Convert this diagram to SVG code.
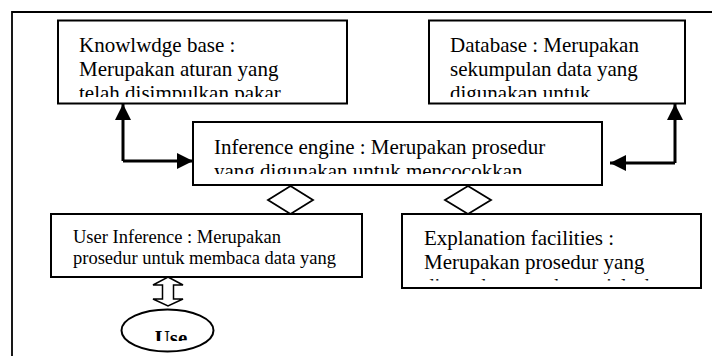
<svg xmlns="http://www.w3.org/2000/svg" width="712" height="356" viewBox="0 0 712 356">
<style>
.box{fill:#fff;stroke:#000;stroke-width:2}
.t{font-family:"Liberation Serif","Times New Roman",serif;font-size:21px;fill:#000}
.ts{font-family:"Liberation Serif","Times New Roman",serif;font-size:18.5px;fill:#000}
.conn{fill:none;stroke:#000;stroke-width:3}
.dia{fill:#fff;stroke:#000;stroke-width:1.8}
.frame{fill:none;stroke:#000;stroke-width:1.8}
</style>
<defs>
<marker id="ah" markerUnits="userSpaceOnUse" markerWidth="16" markerHeight="16" refX="16" refY="8" orient="auto" viewBox="0 0 16 16">
<path d="M0,0 L16,8 L0,16 Z" fill="#000"/>
</marker>
<clipPath id="cKb"><rect x="59" y="21" width="287" height="76"/></clipPath>
<clipPath id="cDb"><rect x="430" y="21" width="254" height="76"/></clipPath>
<clipPath id="cIe"><rect x="194" y="123" width="407" height="51"/></clipPath>
<clipPath id="cUi"><rect x="52" y="215" width="309" height="61"/></clipPath>
<clipPath id="cEx"><rect x="403" y="215" width="297" height="65.5"/></clipPath>
<clipPath id="cUs"><rect x="120" y="300" width="100" height="41"/></clipPath>
</defs>
<rect width="712" height="356" fill="#fff"/>
<path class="frame" d="M12,356 V12 H712"/>
<g id="connectors">
<path class="conn" d="M123,161 V104" marker-end="url(#ah)"/>
<path class="conn" d="M123,161 H193" marker-end="url(#ah)"/>
<path class="conn" d="M675,163 V104" marker-end="url(#ah)"/>
<path class="conn" d="M675,163 H610" marker-end="url(#ah)"/>
<polygon class="dia" points="290.5,186 313,200 290.5,214 268,200"/>
<polygon class="dia" points="468,186 491,200 468,214 445,200"/>
<polygon fill="#fff" stroke="#000" stroke-width="1.5" points="168,277 183,285 173.5,285 173.5,299 183,299 168,306 153,299 162.5,299 162.5,285 153,285"/>
</g>
<g id="knowledge-base">
<rect class="box" x="58" y="20.5" width="289" height="83"/>
<g clip-path="url(#cKb)" class="t">
<text x="79" y="52">Knowlwdge base :</text>
<text x="79" y="76">Merupakan aturan yang</text>
<text x="79" y="100">telah disimpulkan pakar</text>
</g>
</g>
<g id="database">
<rect class="box" x="429" y="20.5" width="256" height="83"/>
<g clip-path="url(#cDb)" class="t">
<text x="450" y="52">Database : Merupakan</text>
<text x="450" y="76">sekumpulan data yang</text>
<text x="450" y="100">digunakan untuk</text>
</g>
</g>
<g id="inference-engine">
<rect class="box" x="193" y="122" width="409" height="63"/>
<g clip-path="url(#cIe)" class="t">
<text x="214" y="154">Inference engine : Merupakan prosedur</text>
<text x="214" y="178">yang digunakan untuk mencocokkan</text>
</g>
</g>
<g id="user-inference">
<rect class="box" x="51" y="214" width="311" height="63"/>
<g clip-path="url(#cUi)" class="ts">
<text x="73" y="243">User Inference : Merupakan</text>
<text x="73" y="264">prosedur untuk membaca data yang</text>
</g>
</g>
<g id="explanation-facilities">
<rect class="box" x="402" y="214" width="299" height="74"/>
<g clip-path="url(#cEx)" class="t">
<text x="424" y="245">Explanation facilities :</text>
<text x="424" y="269">Merupakan prosedur yang</text>
<text x="424" y="293">digunakan untuk menjelaskan</text>
</g>
</g>
<g id="user">
<ellipse cx="167.5" cy="330.5" rx="46" ry="21" fill="#fff" stroke="#000" stroke-width="2"/>
<g clip-path="url(#cUs)">
<text x="171" y="345" text-anchor="middle" class="t" font-weight="bold">Use</text>
</g>
</g>
</svg>
